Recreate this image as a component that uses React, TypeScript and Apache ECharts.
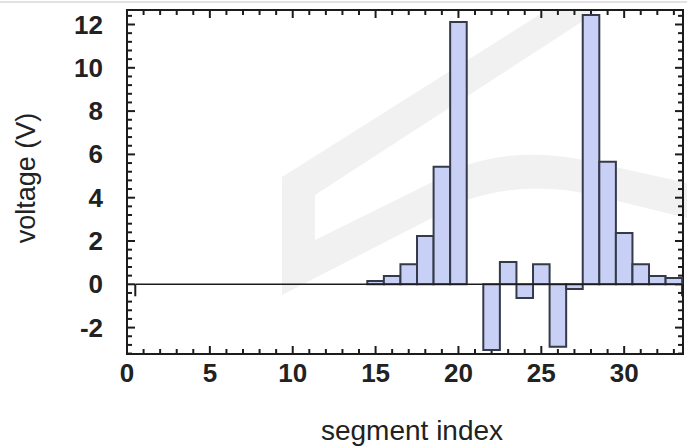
import React, { useEffect, useRef } from "react";
import * as echarts from "echarts";

// ---- data ----
const segments = [
  1, 2, 3, 4, 5, 6, 7, 8, 9, 10, 11, 12, 13, 14, 15, 16, 17, 18, 19, 20, 21,
  22, 23, 24, 25, 26, 27, 28, 29, 30, 31, 32, 33,
];
const voltages = [
  0, 0, 0, 0, 0, 0, 0, 0, 0, 0, 0, 0, 0, 0, 0.15, 0.38, 0.93, 2.23, 5.43,
  12.12, 0, -3.03, 1.03, -0.63, 0.93, -2.89, -0.22, 12.44, 5.66, 2.37, 0.93,
  0.38, 0.29,
];
const xMajorTicks = [0, 5, 10, 15, 20, 25, 30];
const yMajorTicks = [-2, 0, 2, 4, 6, 8, 10, 12];
const xTitle = "segment index";
const yTitle = "voltage (V)";

const X_MIN = 0;
const X_MAX = 33.55;
const Y_MIN = -3.22;
const Y_MAX = 12.67;

// minor tick positions (axis layout)
const xMinorTicks: number[] = [];
for (let i = 1; i <= 33; i++) if (i % 5 !== 0) xMinorTicks.push(i);
const yMinorTicks: number[] = [];
for (let k = -8; k <= 31; k++) {
  const v = Math.round(k * 0.4 * 100) / 100;
  if (k % 5 !== 0) yMinorTicks.push(v);
}

const WM_PATH =
  "M 547 10 L 282 177 L 282 295 L 467 200 Q 525 180 593 195 L 687 218 L 687 183 L 593 162 Q 525 146 467 165 L 315 240 L 315 195 L 600 10 Z";

let registered = false;

export default function App() {
  const ref = useRef<HTMLDivElement>(null);
  useEffect(() => {
    if (!ref.current) return;
    if (!registered) {
      echarts.graphic.registerShape(
        "wmshape",
        echarts.graphic.extendPath(WM_PATH, {}) as any
      );
      registered = true;
    }
    const chart = echarts.init(ref.current, undefined, { renderer: "svg" });
    const font = "Liberation Sans";
    const axisColor = "#1c1c1c";
    const textColor = "#222222";
    const TW = 2; // tick thickness

    const barData = segments.map((s, i) => [s, voltages[i]]);
    const baseData = [[segments[0] - 0.5, segments[segments.length - 1] + 0.5]];
    const xTickData = [
      ...xMajorTicks.map((v) => [v, 1]),
      ...xMinorTicks.map((v) => [v, 0]),
    ];
    const yTickData = [
      ...yMajorTicks.map((v) => [1, v]),
      ...yMinorTicks.map((v) => [0, v]),
    ];

    const baseGraphics: any[] = [
      {
        type: "wmshape",
        id: "wm",
        x: 0,
        y: 0,
        z: -10,
        silent: true,
        style: { fill: "#f1f1f1" },
      },
      {
        type: "rect",
        id: "topline",
        z: -10,
        shape: { x: 0, y: 1, width: 687, height: 2 },
        style: { fill: "#e2e2e2" },
      },
      {
        type: "text",
        id: "xtitle",
        x: 412,
        y: 430,
        style: {
          text: xTitle,
          fontFamily: font,
          fontSize: 28,
          fill: textColor,
          align: "center",
          verticalAlign: "middle",
        },
      },
      {
        type: "text",
        id: "ytitle",
        x: 26,
        y: 178,
        rotation: Math.PI / 2,
        style: {
          text: yTitle,
          fontFamily: font,
          fontSize: 27,
          fill: textColor,
          align: "center",
          verticalAlign: "middle",
        },
      },
    ];

    const tickRect = (x: number, y: number, w: number, h: number) => ({
      type: "rect",
      shape: { x, y, width: w, height: h },
      style: { fill: axisColor },
    });

    chart.setOption({
      animation: false,
      backgroundColor: "#ffffff",
      grid: {
        left: 127,
        right: 4,
        top: 10,
        bottom: 92,
        containLabel: false,
        show: true,
        borderColor: axisColor,
        borderWidth: 2,
        backgroundColor: "transparent",
      },
      xAxis: {
        type: "value",
        min: X_MIN,
        max: X_MAX,
        axisLine: { show: true, onZero: false, lineStyle: { color: axisColor, width: 2 } },
        axisTick: { show: false },
        splitLine: { show: false },
        axisLabel: {
          customValues: xMajorTicks,
          margin: 6,
          fontFamily: font,
          fontSize: 26,
          fontWeight: "bold",
          color: textColor,
        },
      },
      yAxis: {
        type: "value",
        min: Y_MIN,
        max: Y_MAX,
        axisLine: { show: true, onZero: false, lineStyle: { color: axisColor, width: 2 } },
        axisTick: { show: false },
        splitLine: { show: false },
        axisLabel: {
          customValues: yMajorTicks,
          margin: 24,
          fontFamily: font,
          fontSize: 26,
          fontWeight: "bold",
          color: textColor,
        },
      },
      graphic: baseGraphics,
      series: [
        {
          type: "custom",
          data: xTickData,
          renderItem: (params: any, api: any) => {
            const v = api.value(0);
            const len = api.value(1) > 0.5 ? 8 : 5;
            const b = api.coord([v, Y_MIN]);
            const t = api.coord([v, Y_MAX]);
            return {
              type: "group",
              children: [
                tickRect(b[0] - TW / 2, b[1] - len, TW, len),
                tickRect(t[0] - TW / 2, t[1], TW, len),
              ],
            };
          },
        },
        {
          type: "custom",
          data: yTickData,
          renderItem: (params: any, api: any) => {
            const v = api.value(1);
            const len = api.value(0) > 0.5 ? 8 : 5;
            const l = api.coord([X_MIN, v]);
            const r = api.coord([X_MAX, v]);
            return {
              type: "group",
              children: [
                tickRect(l[0], l[1] - TW / 2, len, TW),
                tickRect(r[0] - len, r[1] - TW / 2, len, TW),
              ],
            };
          },
        },
        {
          type: "custom",
          data: barData,
          renderItem: (params: any, api: any) => {
            const x = api.value(0);
            const v = api.value(1);
            const a = api.coord([x - 0.5, v]);
            const b = api.coord([x + 0.5, 0]);
            return {
              type: "rect",
              invisible: v === 0,
              shape: {
                x: a[0],
                y: Math.min(a[1], b[1]),
                width: b[0] - a[0],
                height: Math.abs(b[1] - a[1]),
              },
              style: { fill: "#c9d0f5", stroke: "#343a4a", lineWidth: 2 },
            };
          },
        },
        {
          type: "custom",
          data: baseData,
          renderItem: (params: any, api: any) => {
            const p0 = api.coord([api.value(0), 0]);
            const p1 = api.coord([api.value(1), 0]);
            return {
              type: "group",
              children: [
                tickRect(p0[0], p0[1] - 0.8, p1[0] - p0[0], 1.6),
                tickRect(p0[0] - 1, p0[1], 2, 12),
                tickRect(p1[0] - 1, p1[1], 2, 12),
              ],
            };
          },
        },
      ],
    });

    return () => chart.dispose();
  }, []);
  return (
    <div
      ref={ref}
      style={{ position: "absolute", left: 0, top: 0, width: 687, height: 446 }}
    />
  );
}
